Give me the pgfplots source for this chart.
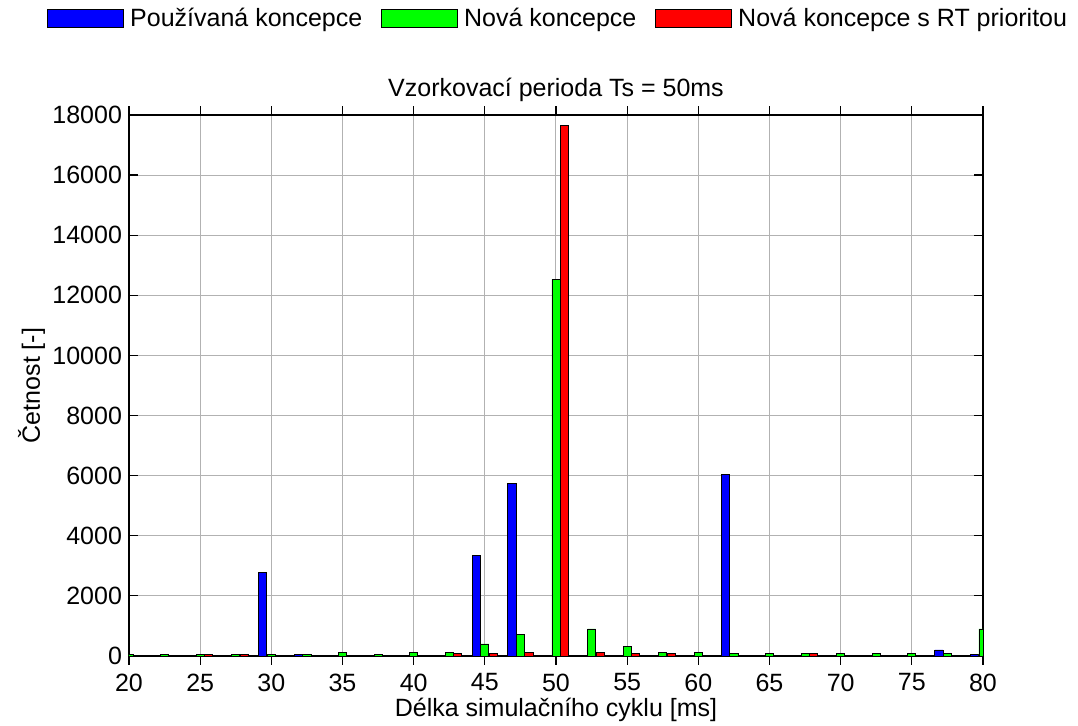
\documentclass[border=0pt]{standalone}
\usepackage{fontspec}
\setmainfont{Liberation Sans}
\usepackage{pgfplots}
\pgfplotsset{compat=1.18}
\definecolor{mblue}{RGB}{0,0,255}
\definecolor{mgreen}{RGB}{0,255,0}
\definecolor{mred}{RGB}{255,0,0}
\newcommand{\chartfont}{\fontsize{12.5}{15}\selectfont}
\begin{document}
\begin{tikzpicture}
\begin{axis}[
    scale only axis,
    width=427pt, height=270.5pt,
    xmin=20, xmax=80, ymin=0, ymax=18000,
    xtick={20,25,...,80},
    ytick={0,2000,...,18000},
    scaled y ticks=false,
    /pgf/number format/1000 sep={},
    /pgf/number format/assume math mode=true,
    ticklabel style={font=\chartfont},
    xticklabel style={yshift=-1pt},
    grid=major,
    grid style={gray!60, line width=0.5pt},
    axis line style={black, line width=0.8pt},
    major tick style={black, line width=0.6pt},
    tick align=inside,
    ybar, bar width=0.57,
    title={Vzorkovací perioda Ts = 50ms},
    title style={font=\chartfont, inner sep=0pt, yshift=0.5pt},
    xlabel={Délka simulačního cyklu [ms]},
    ylabel={Četnost [-]},
    every axis x label/.style={at={(axis description cs:0.5,-0.0998)}, anchor=center, font=\chartfont},
    every axis y label/.style={at={(axis description cs:-0.114,0.5)}, rotate=90, anchor=center, font=\chartfont},
    legend columns=-1,
    legend style={at={(axis description cs:-0.096,1.178)}, anchor=west, draw=none, fill=none,
        font=\chartfont, inner sep=0pt, nodes={inner sep=2pt},
        /tikz/every odd column/.append style={column sep=1pt},
        /tikz/every even column/.append style={column sep=7.5pt}},
]
\addplot[fill=mblue, draw=black, line width=0.4pt, bar shift=-0.6,
    legend image code/.code={\draw[fill=mblue, draw=black, line width=0.4pt] (0pt,-4.5pt) rectangle (38pt,4.5pt);}]
coordinates {
    (30,2780) (32.5,65) (45,3360) (47.5,5730) (62.5,6050) (77.5,200) (80,65)
};
\addlegendentry{Používaná koncepce}
\addplot[fill=mgreen, draw=black, line width=0.4pt, bar shift=0,
    legend image code/.code={\draw[fill=mgreen, draw=black, line width=0.4pt] (0pt,-4.5pt) rectangle (38pt,4.5pt);}]
coordinates {
    (20,65) (22.5,65) (25,65) (27.5,65) (30,65) (32.5,65) (35,120) (37.5,65)
    (40,130) (42.5,130) (45,400) (47.5,720) (50,12530) (52.5,900) (55,330)
    (57.5,130) (60,130) (62.5,75) (65,75) (67.5,75) (70,75) (72.5,75) (75,75)
    (77.5,75) (80,900)
};
\addlegendentry{Nová koncepce}
\addplot[fill=mred, draw=black, line width=0.4pt, bar shift=0.6,
    legend image code/.code={\draw[fill=mred, draw=black, line width=0.4pt] (0pt,-4.5pt) rectangle (38pt,4.5pt);}]
coordinates {
    (25,65) (27.5,65) (42.5,75) (45,75) (47.5,130) (50,17650) (52.5,130)
    (55,75) (57.5,75) (67.5,75)
};
\addlegendentry{Nová koncepce s RT prioritou}
\end{axis}
\pgfresetboundingbox
\path[use as bounding box] (-64.5pt,-35pt) rectangle (474.5pt,328pt);
\end{tikzpicture}
\end{document}
